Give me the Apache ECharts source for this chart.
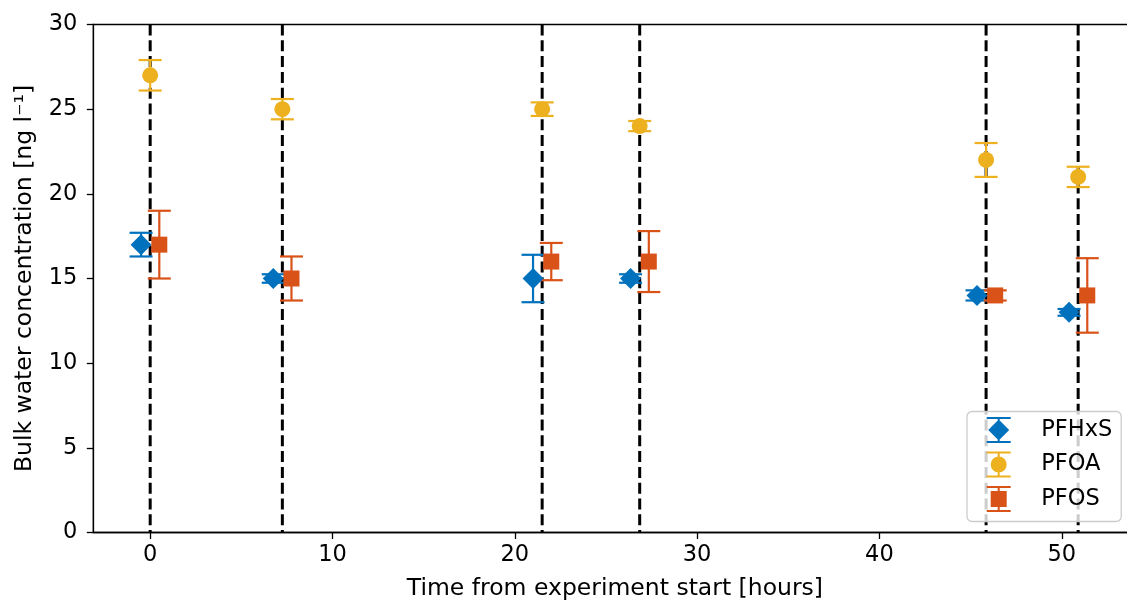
<!DOCTYPE html>
<html>
<head>
<meta charset="utf-8">
<script src="https://cdn.jsdelivr.net/npm/echarts@6/dist/echarts.min.js"></script>
<style>
  html, body { margin: 0; padding: 0; background: #fff; }
  #chart { width: 1127px; height: 603px; }
</style>
</head>
<body>
<div id="chart"></div>
<script>
// sample times [hours], also where the dashed lines sit
const sampleTimes = [0, 7.25, 21.5, 26.85, 45.85, 50.9];
const changeTimes = [0, 7.25, 21.5, 26.85, 45.85, 50.9];

// concentrations [ng/l] and their error (half length of the bar)
const pfhxs = [17, 15, 15, 15, 14, 13];
const pfhxsErr = [0.7, 0.25, 1.4, 0.25, 0.3, 0.2];
const pfoa = [27, 25, 25, 24, 22, 21];
const pfoaErr = [0.9, 0.6, 0.4, 0.3, 1.0, 0.6];
const pfos = [17, 15, 16, 16, 14, 14];
const pfosErr = [2.0, 1.3, 1.1, 1.8, 0.3, 2.2];

const xTicks = [0, 10, 20, 30, 40, 50];

// species are shifted a bit left / right so they don't overlap
const dodge = 0.5;

const BLUE = '#0072BD';
const YELLOW = '#EDB120';
const ORANGE = '#D95319';
const FONT = 'DejaVu Sans';
const FS = 22.5;
const NAME_FS = 23.5;

// legend icons: errorbar with marker on it
const capBar = 'M0 0 H24 V2 H0 Z M0 24 H24 V26 H0 Z M11 0 H13 V26 H11 Z ';
const iconDiamond = 'path://' + capBar + 'M12 2.5 L22.5 13 L12 23.5 L1.5 13 Z';
const iconCircle = 'path://' + capBar + 'M4 13 A8 8 0 1 1 20 13 A8 8 0 1 1 4 13 Z';
const iconSquare = 'path://' + capBar + 'M4 5 H20 V21 H4 Z';

function points(vals, shift) {
    return vals.map((v, i) => [sampleTimes[i] + shift, v]);
}

function bars(vals, errs, shift) {
    return vals.map((v, i) => [sampleTimes[i] + shift, v - errs[i], v + errs[i]]);
}

function errorBarSeries(name, vals, errs, shift, color) {
    return {
        name: name + ' err',
        type: 'custom',
        z: 3,
        renderItem: function (params, api) {
            const x = api.value(0);
            const lo = api.coord([x, api.value(1)]);
            const hi = api.coord([x, api.value(2)]);
            const half = 11.5;
            const style = { stroke: color, lineWidth: 2.2, fill: null };
            return {
                type: 'group',
                children: [
                    { type: 'line', shape: { x1: lo[0], y1: lo[1], x2: hi[0], y2: hi[1] }, style: style },
                    { type: 'line', shape: { x1: lo[0] - half, y1: lo[1], x2: lo[0] + half, y2: lo[1] }, style: style },
                    { type: 'line', shape: { x1: hi[0] - half, y1: hi[1], x2: hi[0] + half, y2: hi[1] }, style: style }
                ]
            };
        },
        encode: { x: 0, y: [1, 2] },
        data: bars(vals, errs, shift)
    };
}

const chart = echarts.init(document.getElementById('chart'), null, { renderer: 'canvas' });

const option = {
    animation: false,
    backgroundColor: '#fff',
    textStyle: { fontFamily: FONT },
    grid: {
        left: 93.3,
        top: 24.5,
        right: -9.5,
        bottom: 70.5,
        containLabel: false,
        outerBoundsMode: 'none',
        show: true,
        borderColor: '#000',
        borderWidth: 1.3,
        backgroundColor: 'transparent'
    },
    legend: {
        orient: 'vertical',
        left: 967,
        top: 411.5,
        padding: [5.5, 9, 9.5, 19.7],
        itemWidth: 25,
        itemHeight: 26,
        itemGap: 8.5,
        backgroundColor: 'rgba(255,255,255,0.8)',
        borderColor: '#cccccc',
        borderWidth: 1.3,
        borderRadius: 5,
        textStyle: { fontFamily: FONT, fontSize: FS, color: '#000', padding: [0, 0, 0, 25] },
        data: [
            { name: 'PFHxS', icon: iconDiamond, itemStyle: { color: BLUE } },
            { name: 'PFOA', icon: iconCircle, itemStyle: { color: YELLOW } },
            { name: 'PFOS', icon: iconSquare, itemStyle: { color: ORANGE } }
        ],
        z: 20
    },
    xAxis: {
        type: 'value',
        min: -3.12,
        max: 54.1,
        name: 'Time from experiment start [hours]',
        nameLocation: 'middle',
        nameGap: 44,
        nameTextStyle: { fontFamily: FONT, fontSize: NAME_FS, color: '#000' },
        axisLine: { show: true, onZero: false, lineStyle: { color: '#000', width: 1.3 } },
        axisTick: { show: true, length: 6.5, lineStyle: { color: '#000', width: 1.3 }, customValues: xTicks },
        axisLabel: { fontFamily: FONT, fontSize: FS, color: '#000', margin: 11, customValues: xTicks },
        splitLine: { show: false }
    },
    yAxis: {
        type: 'value',
        min: 0,
        max: 30,
        interval: 5,
        name: 'Bulk water concentration [ng l\u207B\u00B9]',
        nameLocation: 'middle',
        nameGap: 56,
        nameTextStyle: { fontFamily: FONT, fontSize: NAME_FS, color: '#000' },
        axisLine: { show: true, onZero: false, lineStyle: { color: '#000', width: 1.3 } },
        axisTick: { show: true, length: 6.5, lineStyle: { color: '#000', width: 1.3 } },
        axisLabel: { fontFamily: FONT, fontSize: FS, color: '#000', margin: 16 },
        splitLine: { show: false }
    },
    series: [
        {
            name: 'changes',
            type: 'custom',
            z: 2,
            silent: true,
            renderItem: function (params, api) {
                const p = api.coord([api.value(0), 0]);
                const cs = params.coordSys;
                return {
                    type: 'line',
                    shape: { x1: p[0], y1: cs.y, x2: p[0], y2: cs.y + cs.height },
                    style: { stroke: '#000', lineWidth: 3, lineDash: [11, 4.8] }
                };
            },
            encode: { x: 0 },
            data: changeTimes.map(t => [t])
        },
        errorBarSeries('PFHxS', pfhxs, pfhxsErr, -dodge, BLUE),
        errorBarSeries('PFOA', pfoa, pfoaErr, 0, YELLOW),
        errorBarSeries('PFOS', pfos, pfosErr, dodge, ORANGE),
        {
            name: 'PFHxS',
            type: 'scatter',
            z: 5,
            symbol: 'diamond',
            symbolSize: 21,
            itemStyle: { color: BLUE, opacity: 1 },
            data: points(pfhxs, -dodge)
        },
        {
            name: 'PFOA',
            type: 'scatter',
            z: 5,
            symbol: 'circle',
            symbolSize: 16,
            itemStyle: { color: YELLOW, opacity: 1 },
            data: points(pfoa, 0)
        },
        {
            name: 'PFOS',
            type: 'scatter',
            z: 5,
            symbol: 'rect',
            symbolSize: 16,
            itemStyle: { color: ORANGE, opacity: 1 },
            data: points(pfos, dodge)
        }
    ]
};

chart.setOption(option);
window.addEventListener('resize', () => chart.resize());
</script>
</body>
</html>
